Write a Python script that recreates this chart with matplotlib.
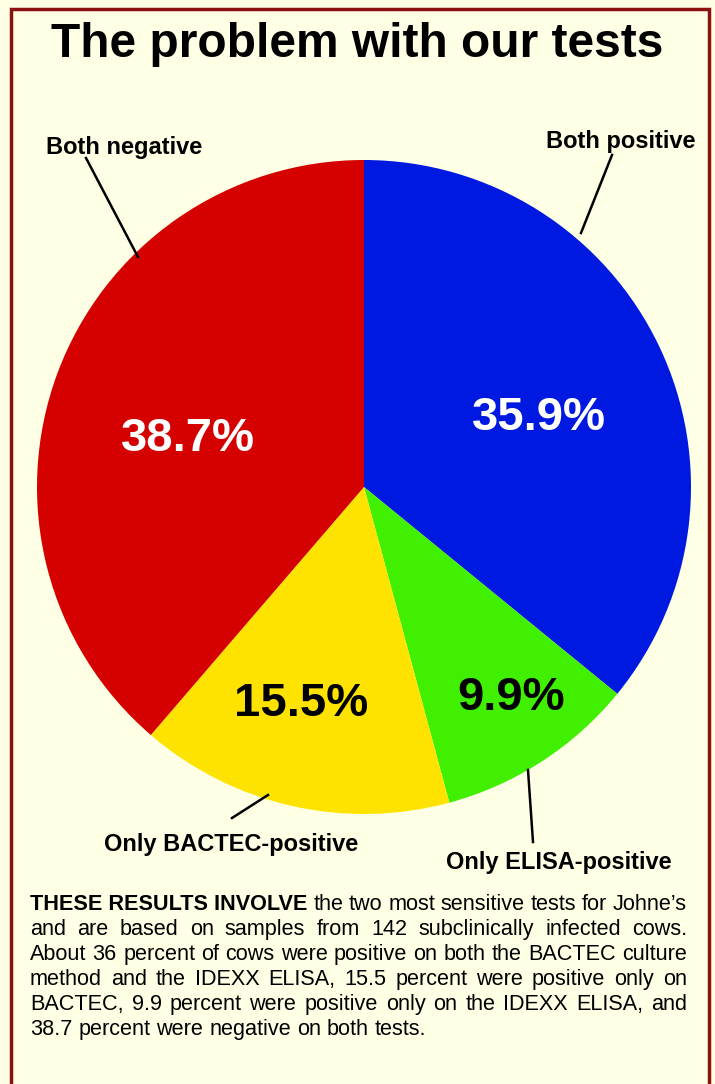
import matplotlib
matplotlib.use("Agg")
import matplotlib.pyplot as plt
from matplotlib.patches import Rectangle

# ---- data ----
categories = ["Both positive", "Only ELISA-positive", "Only BACTEC-positive", "Both negative"]
values = [35.9, 9.9, 15.5, 38.7]
pct_labels = ["35.9%", "9.9%", "15.5%", "38.7%"]
colors = ["#0019E0", "#40F000", "#FFE300", "#D50000"]
pct_colors = ["white", "black", "black", "white"]
title = "The problem with our tests"
caption_bold = "THESE RESULTS INVOLVE"
caption_lines = [
    " the two most sensitive tests for Johne\u2019s",
    "and are based on samples from 142 subclinically infected cows.",
    "About 36 percent of cows were positive on both the BACTEC culture",
    "method and the IDEXX ELISA, 15.5 percent were positive only on",
    "BACTEC, 9.9 percent were positive only on the IDEXX ELISA, and",
    "38.7 percent were negative on both tests.",
]

W, H = 715, 1084
BG = "#FFFFE5"
FONT = "Liberation Sans"

fig = plt.figure(figsize=(W / 100, H / 100), dpi=100, facecolor=BG)
ax = fig.add_axes([0, 0, 1, 1])
ax.set_facecolor(BG)

def Y(py):
    return H - py

# pie
cx, cy, r = 364, Y(487), 327
ax.pie(values, colors=colors, startangle=90, counterclock=False,
       center=(cx, cy), radius=r, frame=True,
       wedgeprops=dict(linewidth=0))
ax.set_xlim(0, W)
ax.set_ylim(0, H)
ax.set_aspect("auto")
ax.axis("off")

# border
ax.add_patch(Rectangle((10.5, Y(1100)), 698, 1100 - 8.5, fill=False,
                       edgecolor="#8B1010", linewidth=2.5, zorder=5))

# percent labels (x centre, baseline)
pct_pos = [(539, 430), (511, 710), (301, 716), (188, 451)]
for (px, py), t, c in zip(pct_pos, pct_labels, pct_colors):
    ax.text(px, Y(py), t, ha="center", va="baseline", fontsize=34,
            fontweight="bold", color=c, family=FONT)

# category labels and leader lines
lab_pos = [(621, 148), (559, 869), (231, 851), (124, 154)]
lines = [((612, 155), (581, 233)), ((533, 842), (528, 770)),
         ((232, 818), (268, 795)), ((86, 158), (138, 257))]
for (px, py), t, ((x1, y1), (x2, y2)) in zip(lab_pos, categories, lines):
    ax.text(px, Y(py), t, ha="center", va="baseline", fontsize=17,
            fontweight="bold", color="black", family=FONT)
    ax.plot([x1, x2], [Y(y1), Y(y2)], color="black", linewidth=1.8)

# title
ax.text(357, Y(57), title, ha="center", va="baseline", fontsize=34.5,
        fontweight="bold", color="black", family=FONT)

# caption with justification
fig.canvas.draw()
renderer = fig.canvas.get_renderer()
left, right = 30, 687
fs = 15.6
y0, dy = 910, 25

def width_of(s, weight="normal"):
    t = ax.text(0, 0, s, fontsize=fs, fontweight=weight, family=FONT)
    bb = t.get_window_extent(renderer=renderer)
    t.remove()
    return bb.width

space = width_of("a b") - width_of("ab")
for i, line in enumerate(caption_lines):
    py = Y(y0 + i * dy)
    words = []
    if i == 0:
        words.append((caption_bold, "bold"))
    words += [(w, "normal") for w in line.split()]
    widths = [width_of(w, wt) for w, wt in words]
    last = (i == len(caption_lines) - 1)
    if last:
        gap = space
    else:
        gap = (right - left - sum(widths)) / (len(words) - 1)
    x = left
    for (w, wt), ww in zip(words, widths):
        ax.text(x, py, w, fontsize=fs, fontweight=wt, family=FONT,
                ha="left", va="baseline", color="black")
        x += ww + gap

fig.savefig("out.png", dpi=100, facecolor=BG)
